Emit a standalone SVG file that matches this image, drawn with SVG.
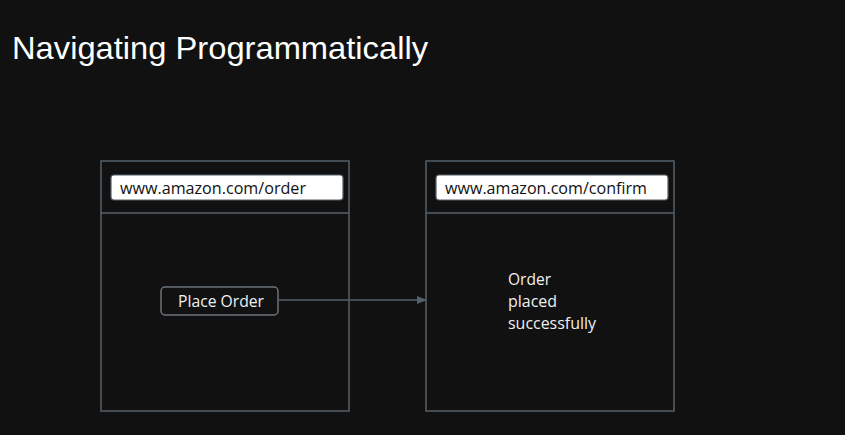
<svg xmlns="http://www.w3.org/2000/svg" width="845" height="435" viewBox="0 0 845 435">
<defs>
<style>
.frame{fill:none;stroke:#566069;stroke-width:1.5}
.url{fill:#ffffff;stroke:#566069;stroke-width:1.2}
.urlt{font-family:"Open Sans","Noto Sans",sans-serif;font-size:16px;fill:#111111}
.lbl{font-family:"Open Sans","Noto Sans",sans-serif;font-size:16px;fill:#f0f0f0}
.btn{fill:#111111;stroke:#6b737b;stroke-width:1.5}
.conn{stroke:#566069;stroke-width:1.3;fill:none}
</style>
<marker id="arr" markerWidth="10" markerHeight="8" refX="9" refY="4" orient="auto" markerUnits="userSpaceOnUse">
<path d="M0,0 L10,4 L0,8 z" fill="#566069"/>
</marker>
</defs>
<rect width="845" height="435" fill="#111111"/>
<text x="12" y="58.5" font-family="Liberation Sans, Arial, sans-serif" font-size="32" fill="#ffffff" textLength="416" lengthAdjust="spacingAndGlyphs">Navigating Programmatically</text>
<g id="page-order">
<rect class="frame" x="101" y="161" width="248" height="250"/>
<line class="frame" x1="101" y1="213" x2="349" y2="213"/>
<rect class="url" x="111" y="175" width="232" height="25" rx="3"/>
<text class="urlt" x="120" y="193.5" textLength="186" lengthAdjust="spacingAndGlyphs">www.amazon.com/order</text>
</g>
<g id="btn-place-order">
<rect class="btn" x="161" y="287" width="117" height="28" rx="4"/>
<text class="lbl" x="178" y="307" textLength="86" lengthAdjust="spacingAndGlyphs">Place Order</text>
</g>
<g id="page-confirm">
<rect class="frame" x="426" y="161" width="248" height="250"/>
<line class="frame" x1="426" y1="213" x2="674" y2="213"/>
<rect class="url" x="436" y="175" width="232" height="25" rx="3"/>
<text class="urlt" x="445" y="193.5" textLength="202" lengthAdjust="spacingAndGlyphs">www.amazon.com/confirm</text>
<text class="lbl" x="508" y="285" textLength="43" lengthAdjust="spacingAndGlyphs">Order</text>
<text class="lbl" x="508" y="307" textLength="49" lengthAdjust="spacingAndGlyphs">placed</text>
<text class="lbl" x="508" y="329" textLength="88" lengthAdjust="spacingAndGlyphs">successfully</text>
</g>
<g id="connectors">
<line class="conn" x1="278" y1="300" x2="426" y2="300" marker-end="url(#arr)"/>
</g>
</svg>
